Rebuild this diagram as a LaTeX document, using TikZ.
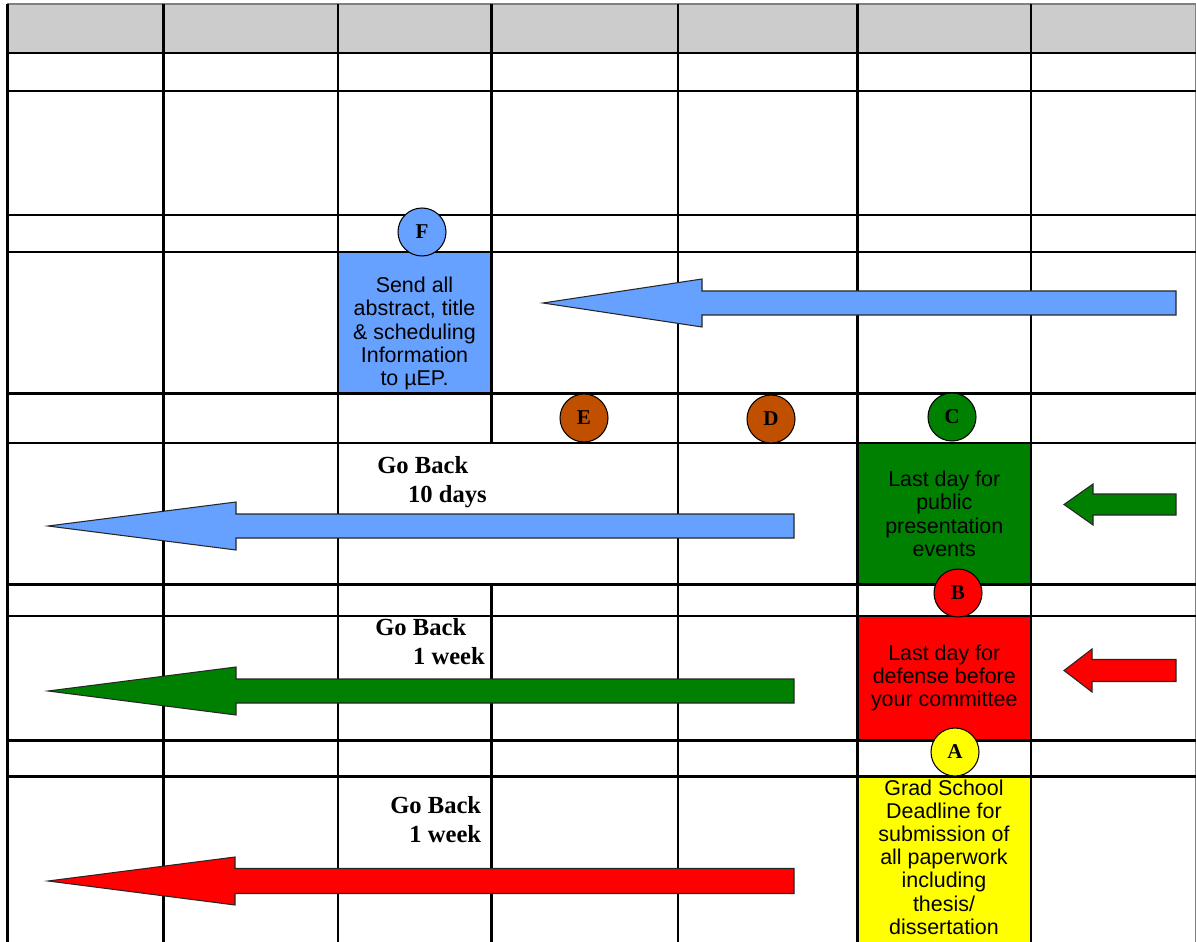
\documentclass[tikz,border=0pt]{standalone}
\usepackage{fontspec}
\setmainfont{Liberation Serif}
\setsansfont{Liberation Sans}
\usepackage{tikz}
\usetikzlibrary{arrows}

\definecolor{ublue}{RGB}{102,161,255}
\definecolor{ugreen}{RGB}{0,128,0}
\definecolor{ured}{RGB}{255,0,0}
\definecolor{uyellow}{RGB}{255,255,0}
\definecolor{ubrown}{RGB}{192,80,0}
\definecolor{ugrey}{RGB}{204,204,204}

\tikzset{
  tableline/.style={line width=1.6pt},
  box/.style={draw, line width=1.6pt, inner sep=0pt},
  boxtext/.style={align=center, inner sep=0pt, font=\sffamily\fontsize{12.2}{13.2}\selectfont},
  letterdot/.style={circle, draw, line width=0.6pt, minimum size=0.96cm, inner sep=0pt, font=\bfseries\fontsize{12}{14}\selectfont},
  goback/.style={inner sep=0pt, font=\bfseries\fontsize{14}{16.4}\selectfont},
  arrowbody/.style={draw=black!85, line width=0.6pt, line join=miter}
}

% #1 colour, #2 tip x, #3 head x, #4 end x, #5 mid y, #6 head half, #7 shaft half
\newcommand{\backarrow}[7]{%
  \filldraw[arrowbody, fill=#1] (#2,#5) -- (#3,{#5-#6}) -- (#3,{#5-#7}) -- (#4,{#5-#7})
    -- (#4,{#5+#7}) -- (#3,{#5+#7}) -- (#3,{#5+#6}) -- cycle;}

\begin{document}
\begin{tikzpicture}[x=0.02cm,y=-0.02cm]
\path[use as bounding box] (0,0) rectangle (1196,942);

% table
\fill[ugrey] (7,4) rectangle (1196,53);
\draw[gray, line width=0.6pt] (7,4) -- (1196,4) (1195.5,4) -- (1195.5,942);
\draw[tableline] (7,53) -- (1196,53) (7,91) -- (1196,91) (7,215) -- (1196,215)
  (7,252) -- (1196,252) (7,393.5) -- (1196,393.5) (7,443) -- (1196,443)
  (7,584.5) -- (1196,584.5) (7,616) -- (1196,616) (7,740.5) -- (1196,740.5)
  (7,776.5) -- (1196,776.5);
\draw[tableline] (7.5,4) -- (7.5,942) (163.5,4) -- (163.5,942) (338,4) -- (338,942)
  (491.5,4) -- (491.5,443) (491.5,584.5) -- (491.5,942) (678,4) -- (678,942)
  (857.5,4) -- (857.5,942) (1031,4) -- (1031,942);

% deadline boxes
\node (boxF) [box, fill=ublue, minimum width=3.07cm, minimum height=2.83cm] at (414.75,322.75) {};
\node (textF) [boxtext] at (414.5,333.5) {Send all\\abstract, title\\\& scheduling\\Information\\to µEP.};
\node (boxC) [box, fill=ugreen, minimum width=3.47cm, minimum height=2.83cm, boxtext] at (944.25,513.75)
  {Last day for\\public\\presentation\\events};
\node (boxB) [box, fill=ured, minimum width=3.47cm, minimum height=2.49cm, boxtext] at (944.25,678.25)
  {Last day for\\defense before\\your committee};
\node (boxA) [box, fill=uyellow, minimum width=3.47cm, minimum height=3.67cm] at (944.25,868) {};
\node (textA) [boxtext] at (944,857) {Grad School\\Deadline for\\submission of\\all paperwork\\including\\thesis/\\dissertation};

% letters
\node (F) [letterdot, fill=ublue] at (422,232) {F};
\node (E) [letterdot, fill=ubrown] at (584,418) {E};
\node (D) [letterdot, fill=ubrown] at (771,419) {D};
\node (C) [letterdot, fill=ugreen] at (952,417) {C};
\node (B) [letterdot, fill=ured] at (958,593) {B};
\node (A) [letterdot, fill=uyellow] at (955,752) {A};

% arrows
\backarrow{ublue}{543}{702}{1176}{303}{24}{12}
\backarrow{ublue}{48}{236}{794}{526}{24}{12}
\backarrow{ugreen}{48}{236}{794}{691}{24}{12}
\backarrow{ured}{48}{235}{794}{881}{24}{12.5}
\backarrow{ugreen}{1064}{1093}{1176}{504.5}{20.5}{10.5}
\backarrow{ured}{1064}{1092}{1176}{670.5}{21.5}{11}

\node (back10) [goback, align=left, anchor=base west] at (377,502) {Go Back\\\hspace*{17.5pt}10 days};
\node (backC) [goback, align=left, anchor=base west] at (375,664) {Go Back\\\hspace*{21.5pt}1 week};
\node (backA) [goback, align=right, anchor=base east] at (481.5,842) {Go Back\\1 week};
\end{tikzpicture}
\end{document}
